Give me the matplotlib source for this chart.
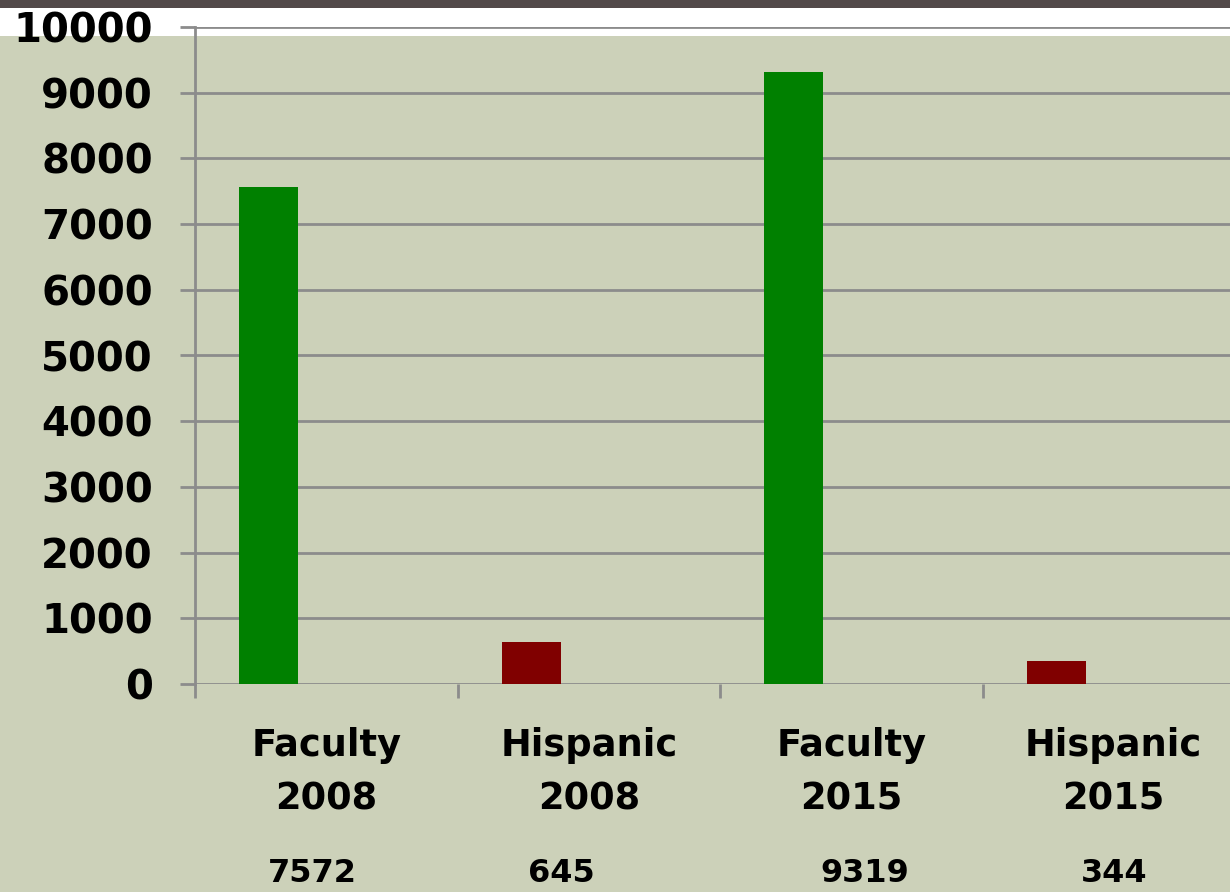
import numpy as np
import matplotlib.pyplot as plt
from matplotlib.patches import Rectangle
from matplotlib.transforms import blended_transform_factory

categories = ['Faculty\n2008', 'Hispanic\n2008', 'Faculty\n2015', 'Hispanic\n2015']
values = [7572, 645, 9319, 344]
bar_colors = ['#008000', '#800000', '#008000', '#800000']
value_labels = ['7572', '645', '9319', '344']
label_x = [0.446, 1.394, 2.552, 3.501]   # value text boxes under the axis

bg = '#CCD1B9'
grid_col = '#8C8C8C'

fig = plt.figure(figsize=(12.3, 8.92), dpi=100, facecolor=bg)

# white band and dark strip across the top (behind the axes)
fig.patches.append(Rectangle((0, 1 - 36 / 892), 1, 28 / 892, transform=fig.transFigure,
                             facecolor='white', edgecolor='none', zorder=-10))
fig.patches.append(Rectangle((0, 1 - 8 / 892), 1, 8 / 892, transform=fig.transFigure,
                             facecolor='#524949', edgecolor='none', zorder=-10))

ax = fig.add_axes([195 / 1230, 208 / 892, 1050 / 1230, 657 / 892])
ax.set_facecolor('none')

x = np.arange(len(categories))
ax.bar(x + 0.168, values, width=0.225, align='edge', color=bar_colors, zorder=3)

ax.set_xlim(0, 4)
ax.set_ylim(0, 10000)
ax.set_yticks(np.arange(0, 10001, 1000))
ax.yaxis.grid(True, color=grid_col, linewidth=2)
ax.set_axisbelow(True)

# ticks at the category boundaries, labels at centres
ax.set_xticks(np.arange(0, 5))
ax.set_xticklabels([])
ax.set_xticks(x + 0.5, minor=True)
ax.set_xticklabels(categories, minor=True, fontsize=26.5, fontweight='bold', linespacing=1.55)
ax.tick_params(axis='x', which='minor', length=0, pad=31)
ax.tick_params(axis='x', which='major', length=10, width=2, color=grid_col)
ax.tick_params(axis='y', length=10.5, width=2, color=grid_col, pad=20, labelsize=29)
for lab in ax.get_yticklabels():
    lab.set_fontweight('bold')

for side in ['top', 'right', 'bottom']:
    ax.spines[side].set_visible(False)
ax.spines['left'].set_color(grid_col)
ax.spines['left'].set_linewidth(2)

trans = blended_transform_factory(ax.transData, fig.transFigure)
for xi, txt in zip(label_x, value_labels):
    ax.text(xi, 1 - 874 / 892, txt, transform=trans,
            ha='center', va='center', fontsize=23, fontweight='bold')

fig.savefig('out.png', dpi=100, facecolor=bg)
